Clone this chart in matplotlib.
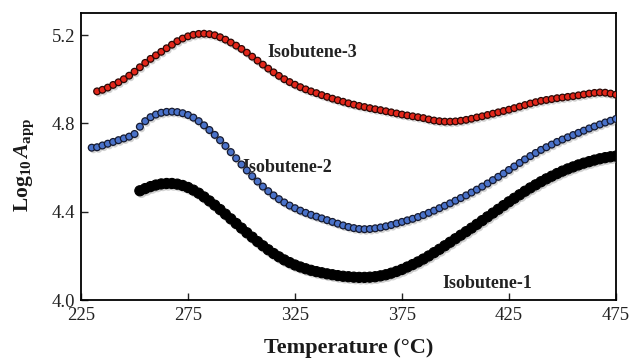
import matplotlib
matplotlib.use("Agg")
import matplotlib.pyplot as plt
import matplotlib.patheffects as pe
import numpy as np

# ---- data ----
t_iso3 = [232.5, 235, 237.5, 240, 242.5, 245, 247.5, 250, 252.5, 255, 257.5, 260,
          262.5, 265, 267.5, 270, 272.5, 275, 277.5, 280, 282.5, 285, 287.5, 290,
          292.5, 295, 297.5, 300, 302.5, 305, 307.5, 310, 312.5, 315, 317.5, 320,
          322.5, 325, 327.5, 330, 332.5, 335, 337.5, 340, 342.5, 345, 347.5, 350,
          352.5, 355, 357.5, 360, 362.5, 365, 367.5, 370, 372.5, 375, 377.5, 380,
          382.5, 385, 387.5, 390, 392.5, 395, 397.5, 400, 402.5, 405, 407.5, 410,
          412.5, 415, 417.5, 420, 422.5, 425, 427.5, 430, 432.5, 435, 437.5, 440,
          442.5, 445, 447.5, 450, 452.5, 455, 457.5, 460, 462.5, 465, 467.5, 470,
          472.5, 475]
a_iso3 = [4.945, 4.952, 4.962, 4.974, 4.986, 5.000, 5.016, 5.034, 5.054, 5.074, 5.092, 5.108,
          5.124, 5.140, 5.156, 5.172, 5.184, 5.194, 5.201, 5.205, 5.206, 5.204, 5.199, 5.190,
          5.179, 5.166, 5.152, 5.137, 5.120, 5.102, 5.084, 5.066, 5.048, 5.031, 5.015, 5.000,
          4.987, 4.975, 4.964, 4.954, 4.945, 4.937, 4.928, 4.920, 4.912, 4.905, 4.898, 4.891,
          4.885, 4.879, 4.874, 4.869, 4.864, 4.860, 4.855, 4.850, 4.845, 4.840, 4.836, 4.832,
          4.828, 4.824, 4.818, 4.813, 4.810, 4.808, 4.808, 4.809, 4.812, 4.816, 4.821, 4.827,
          4.832, 4.838, 4.844, 4.850, 4.856, 4.862, 4.869, 4.876, 4.883, 4.890, 4.896, 4.902,
          4.906, 4.910, 4.914, 4.917, 4.920, 4.923, 4.927, 4.931, 4.935, 4.938, 4.940, 4.939,
          4.935, 4.930]

t_iso2 = [230, 232.5, 235, 237.5, 240, 242.5, 245, 247.5, 250, 252.5, 255, 257.5,
          260, 262.5, 265, 267.5, 270, 272.5, 275, 277.5, 280, 282.5, 285, 287.5,
          290, 292.5, 295, 297.5, 300, 302.5, 305, 307.5, 310, 312.5, 315, 317.5,
          320, 322.5, 325, 327.5, 330, 332.5, 335, 337.5, 340, 342.5, 345, 347.5,
          350, 352.5, 355, 357.5, 360, 362.5, 365, 367.5, 370, 372.5, 375, 377.5,
          380, 382.5, 385, 387.5, 390, 392.5, 395, 397.5, 400, 402.5, 405, 407.5,
          410, 412.5, 415, 417.5, 420, 422.5, 425, 427.5, 430, 432.5, 435, 437.5,
          440, 442.5, 445, 447.5, 450, 452.5, 455, 457.5, 460, 462.5, 465, 467.5,
          470, 472.5, 475]
a_iso2 = [4.690, 4.692, 4.700, 4.708, 4.716, 4.724, 4.732, 4.740, 4.752, 4.785, 4.810, 4.828,
          4.840, 4.848, 4.852, 4.853, 4.851, 4.846, 4.838, 4.826, 4.810, 4.791, 4.770, 4.748,
          4.724, 4.698, 4.670, 4.642, 4.614, 4.587, 4.561, 4.537, 4.514, 4.493, 4.474, 4.457,
          4.442, 4.428, 4.416, 4.405, 4.395, 4.386, 4.378, 4.370, 4.362, 4.354, 4.346, 4.338,
          4.331, 4.326, 4.322, 4.321, 4.322, 4.325, 4.329, 4.334, 4.340, 4.347, 4.354, 4.361,
          4.368, 4.376, 4.385, 4.395, 4.405, 4.416, 4.427, 4.438, 4.450, 4.462, 4.474, 4.487,
          4.500, 4.514, 4.528, 4.543, 4.558, 4.573, 4.589, 4.605, 4.621, 4.637, 4.652, 4.666,
          4.680, 4.692, 4.704, 4.716, 4.727, 4.737, 4.747, 4.757, 4.767, 4.777, 4.786, 4.795,
          4.804, 4.812, 4.820]

t_iso1 = [252.5, 255, 257.5, 260, 262.5, 265, 267.5, 270, 272.5, 275, 277.5, 280,
          282.5, 285, 287.5, 290, 292.5, 295, 297.5, 300, 302.5, 305, 307.5, 310,
          312.5, 315, 317.5, 320, 322.5, 325, 327.5, 330, 332.5, 335, 337.5, 340,
          342.5, 345, 347.5, 350, 352.5, 355, 357.5, 360, 362.5, 365, 367.5, 370,
          372.5, 375, 377.5, 380, 382.5, 385, 387.5, 390, 392.5, 395, 397.5, 400,
          402.5, 405, 407.5, 410, 412.5, 415, 417.5, 420, 422.5, 425, 427.5, 430,
          432.5, 435, 437.5, 440, 442.5, 445, 447.5, 450, 452.5, 455, 457.5, 460,
          462.5, 465, 467.5, 470, 472.5, 475]
a_iso1 = [4.495, 4.505, 4.514, 4.521, 4.526, 4.528, 4.528, 4.525, 4.519, 4.510, 4.498, 4.484,
          4.467, 4.449, 4.430, 4.410, 4.389, 4.368, 4.347, 4.326, 4.305, 4.285, 4.265, 4.246,
          4.228, 4.211, 4.196, 4.182, 4.170, 4.159, 4.150, 4.142, 4.135, 4.129, 4.124, 4.119,
          4.115, 4.111, 4.108, 4.106, 4.104, 4.103, 4.103, 4.104, 4.106, 4.110, 4.115, 4.122,
          4.130, 4.139, 4.150, 4.161, 4.173, 4.186, 4.200, 4.215, 4.230, 4.246, 4.262, 4.278,
          4.294, 4.310, 4.326, 4.343, 4.360, 4.377, 4.394, 4.411, 4.428, 4.445, 4.461, 4.477,
          4.493, 4.508, 4.522, 4.536, 4.549, 4.561, 4.573, 4.584, 4.594, 4.603, 4.612, 4.620,
          4.627, 4.634, 4.640, 4.645, 4.649, 4.652]

series_labels = ["Isobutene-3", "Isobutene-2", "Isobutene-1"]
label_pos = [(312, 5.12), (300.5, 4.60), (394, 4.077)]
x_ticks = [225, 275, 325, 375, 425, 475]
y_ticks = [4.0, 4.4, 4.8, 5.2]

# ---- style ----
plt.rcParams['font.family'] = ['Liberation Serif', 'DejaVu Serif']
plt.rcParams['mathtext.fontset'] = 'custom'
plt.rcParams['mathtext.rm'] = 'Liberation Serif'
plt.rcParams['mathtext.bf'] = 'Liberation Serif:bold'
plt.rcParams['mathtext.it'] = 'Liberation Serif:italic'
plt.rcParams['mathtext.bfit'] = 'Liberation Serif:bold:italic'

fig = plt.figure(figsize=(6.33, 3.59), dpi=100)
ax = fig.add_axes([0.128, 0.164, 0.845, 0.800])

shadow = [pe.SimplePatchShadow(offset=(1.2, -1.6), shadow_rgbFace='#808080', alpha=0.35),
          pe.Normal()]

ax.plot(t_iso1, a_iso1, linestyle='none', marker='o', markersize=7.3,
        markerfacecolor='black', markeredgecolor='black', markeredgewidth=0.8,
        path_effects=shadow, zorder=3)
ax.plot(t_iso2, a_iso2, linestyle='none', marker='o', markersize=4.9,
        markerfacecolor='#4a72c9', markeredgecolor='#151a30', markeredgewidth=0.9,
        path_effects=shadow, zorder=3)
ax.plot(t_iso3, a_iso3, linestyle='none', marker='o', markersize=4.8,
        markerfacecolor='#e2261a', markeredgecolor='#2a0805', markeredgewidth=0.9,
        path_effects=shadow, zorder=3)

for lab, (x, y) in zip(series_labels, label_pos):
    ax.text(x, y, lab, fontsize=13, fontweight='bold', ha='left', va='center',
            color='#222222', zorder=2)

ax.set_xlim(225, 475)
ax.set_ylim(4.0, 5.3)
ax.set_xticks(x_ticks)
ax.set_yticks(y_ticks)
ax.set_xticklabels([str(v) for v in x_ticks])
ax.set_yticklabels([f"{v:.1f}" for v in y_ticks])
ax.tick_params(direction='in', length=5, width=1, labelsize=13.5, colors='#222222',
               top=False, right=False)
ax.tick_params(axis='x', pad=5)
ax.tick_params(axis='y', pad=4)
for s in ax.spines.values():
    s.set_linewidth(1.3)
    s.set_color('black')

ax.set_xlabel('Temperature (°C)', fontsize=16, fontweight='bold', labelpad=10,
              color='#1a1a1a')
ax.set_ylabel(r'$\mathbf{Log}_{\mathbf{10}}\,\mathbfit{A}_{\mathbf{app}}$', fontsize=15.5,
              color='#1a1a1a')
ax.yaxis.set_label_coords(-0.085, 0.47)

fig.savefig('out.png', dpi=100)
